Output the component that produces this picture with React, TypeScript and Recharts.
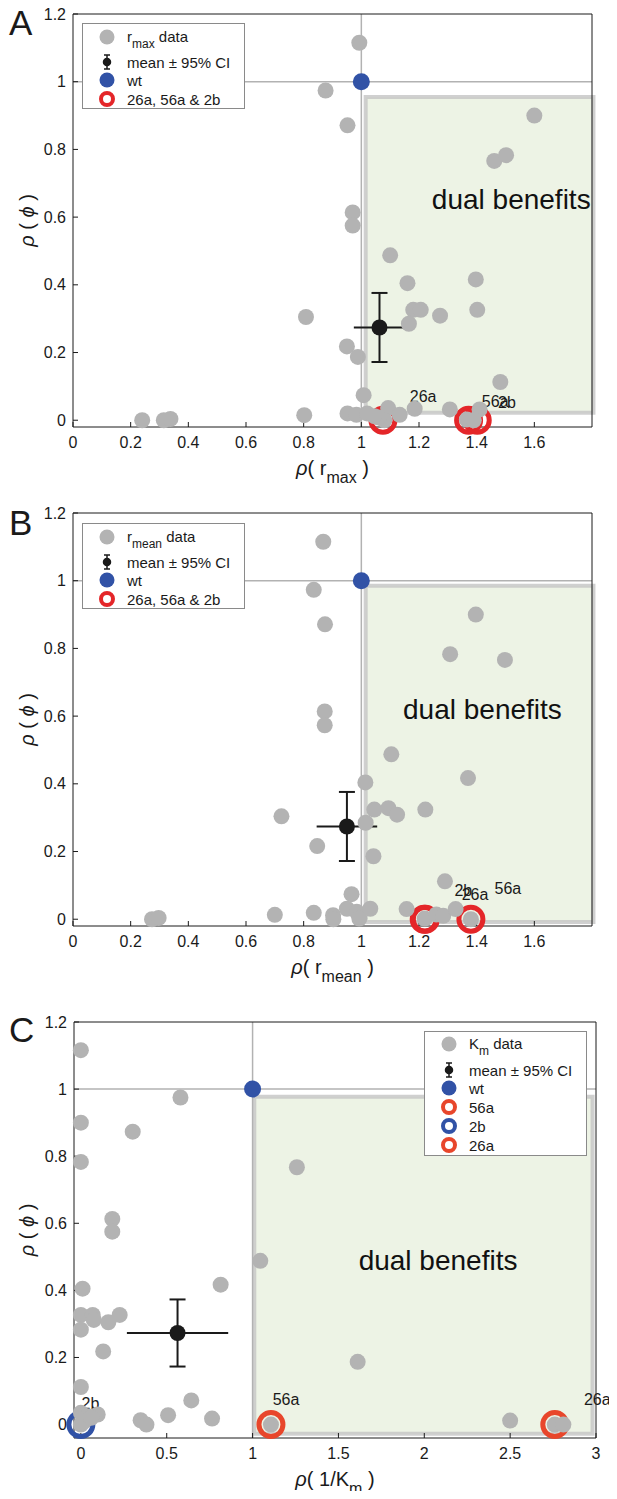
import React from 'react';
import { ScatterChart, Scatter, XAxis, YAxis, ReferenceLine, ReferenceArea, ErrorBar } from 'recharts';

const FONT = '"Liberation Sans", Arial, Helvetica, sans-serif';
const GRAY = '#b3b3b3';
const BLUE = '#3152a6';
const RED = '#e42629';
const RED_C = '#e8462b';
const INK = '#1a1a1a';

// panel A: rho(r_max) vs rho(phi)
const rmaxX = [0.993, 0.876, 0.952, 0.97, 0.97, 1.1, 1.16, 1.397, 1.402, 1.18, 1.206, 1.273, 1.165, 0.808, 0.95, 0.988, 1.6, 1.461, 1.502, 1.482, 1.008, 0.24, 0.315, 0.338, 0.802, 0.952, 0.983, 1.02, 1.093, 1.133, 1.185, 1.307, 1.41, 1.08, 1.366, 1.39, 1.06, 1.045];
const rmaxPhi = [1.115, 0.974, 0.871, 0.614, 0.575, 0.487, 0.405, 0.416, 0.326, 0.326, 0.326, 0.309, 0.285, 0.305, 0.218, 0.187, 0.9, 0.766, 0.783, 0.113, 0.074, 0.0, 0.0, 0.004, 0.015, 0.02, 0.016, 0.02, 0.036, 0.016, 0.034, 0.032, 0.032, 0.0, 0.002, 0.0, 0.008, 0.012];

// panel B: rho(r_mean) vs rho(phi)
const rmeanX = [0.868, 0.835, 0.874, 0.873, 0.873, 1.397, 1.308, 1.498, 1.104, 1.37, 1.014, 1.045, 1.094, 1.124, 1.222, 1.015, 0.723, 0.847, 1.042, 1.29, 0.966, 0.274, 0.297, 0.7, 0.835, 0.902, 0.903, 0.95, 0.984, 0.993, 1.031, 1.157, 1.22, 1.26, 1.284, 1.327, 1.38];
const rmeanPhi = [1.115, 0.973, 0.871, 0.614, 0.573, 0.9, 0.783, 0.766, 0.487, 0.417, 0.404, 0.324, 0.328, 0.309, 0.324, 0.285, 0.304, 0.216, 0.186, 0.112, 0.074, 0.0, 0.004, 0.013, 0.019, 0.012, 0.0, 0.031, 0.022, 0.002, 0.031, 0.03, 0.002, 0.014, 0.01, 0.03, 0.0];

// panel C: rho(1/Km) vs rho(phi)
const kmX = [0.0, 0.58, 0.0, 0.302, 0.0, 0.183, 0.183, 1.258, 1.045, 0.814, 0.01, 0.0, 0.069, 0.075, 0.226, 0.16, 0.0, 0.13, 1.612, 0.0, 0.643, 0.508, 0.764, 0.348, 0.382, 0.098, 0.0, 0.04, 0.0, 2.5, 2.76, 2.81, 1.107, 0.02, 0.06];
const kmPhi = [1.116, 0.975, 0.9, 0.873, 0.783, 0.613, 0.575, 0.767, 0.488, 0.417, 0.405, 0.327, 0.327, 0.312, 0.327, 0.305, 0.283, 0.218, 0.187, 0.112, 0.072, 0.028, 0.018, 0.013, 0.0, 0.03, 0.035, 0.025, 0.0, 0.012, 0.0, 0.0, 0.0, 0.01, 0.02];

// mean +- 95% CI, one entry per panel (A, B, C)
const meanX = [1.063, 0.95, 0.563];
const meanPhi = [0.274, 0.274, 0.273];
const meanXErr = [0.089, 0.105, 0.295];
const meanPhiErr = [0.102, 0.102, 0.1];

// highlighted variants
const ringNamesA = ['26a', '56a', '2b'];
const ringXA = [1.075, 1.372, 1.402];
const labelXA = [1.168, 1.418, 1.474];
const labelPhiA = [0.071, 0.054, 0.053];

const ringNamesB = ['2b', '26a', '56a'];
const ringXB = [1.218, 1.222, 1.38];
const labelXB = [1.323, 1.348, 1.462];
const labelPhiB = [0.086, 0.072, 0.091];

const ringNamesC = ['2b', '56a', '26a'];
const ringXC = [0.0, 1.107, 2.76];
const labelXC = [0.004, 1.117, 2.93];
const labelPhiC = [0.063, 0.075, 0.075];

const ticksR = [0, 0.2, 0.4, 0.6, 0.8, 1, 1.2, 1.4, 1.6];
const ticksK = [0, 0.5, 1, 1.5, 2, 2.5, 3];
const ticksPhi = [0, 0.2, 0.4, 0.6, 0.8, 1, 1.2];

const toPoints = (xs: number[], ys: number[]) => xs.map((x, i) => ({ x, y: ys[i] }));

const GrayDot = (p: any) => <circle cx={p.cx} cy={p.cy} r={8} fill={GRAY} />;
const WtDot = (p: any) => <circle cx={p.cx} cy={p.cy} r={8.5} fill={BLUE} />;
const MeanDot = (p: any) => <circle cx={p.cx} cy={p.cy} r={8} fill={INK} />;
const Ring = (p: any) => (
  <circle cx={p.cx} cy={p.cy} r={12} fill="none" stroke={p.payload.color} strokeWidth={5} />
);
const Tag = (p: any) => (
  <text x={p.cx} y={p.cy} dominantBaseline="central" fontSize={16} fontFamily={FONT} fill={INK}>
    {p.payload.t}
  </text>
);
const Benefits = (p: any) => (
  <text x={p.cx} y={p.cy} dominantBaseline="central" textAnchor="middle" fontSize={28} fontFamily={FONT} fill="#111">
    dual benefits
  </text>
);

const XTitle = ({ viewBox, main, sub }: any) => {
  const cx = viewBox.x + viewBox.width / 2;
  const y = viewBox.y + 48;
  return (
    <text x={cx} y={y} textAnchor="middle" fontSize={20} fontFamily={FONT} fill={INK}>
      <tspan fontStyle="italic">ρ</tspan>
      <tspan>( {main}</tspan>
      <tspan dy={8} fontSize={16}>{sub}</tspan>
      <tspan dy={-8}> )</tspan>
    </text>
  );
};

const YTitle = ({ viewBox }: any) => {
  const cx = 27;
  const cy = viewBox.y + viewBox.height / 2;
  return (
    <text x={cx} y={cy} transform={`rotate(-90 ${cx} ${cy})`} textAnchor="middle" dominantBaseline="central" fontSize={20} fontFamily={FONT} fill={INK}>
      <tspan fontStyle="italic">ρ</tspan> ( <tspan fontStyle="italic">ϕ</tspan> )
    </text>
  );
};

type LegendRow = { kind: 'dot' | 'mean' | 'wt' | 'ring'; color?: string; label: React.ReactNode; y: number };

const LegendBox = ({ left, top, width, height, rows }: { left: number; top: number; width: number; height: number; rows: LegendRow[] }) => (
  <svg width={width} height={height} style={{ position: 'absolute', left, top }}>
    <rect x={0.5} y={0.5} width={width - 1} height={height - 1} fill="#fff" stroke="#8a8a8a" />
    {rows.map((r, i) => (
      <g key={i}>
        {r.kind === 'dot' && <circle cx={25} cy={r.y + 1} r={7.5} fill={GRAY} />}
        {r.kind === 'wt' && <circle cx={25} cy={r.y} r={7.5} fill={BLUE} />}
        {r.kind === 'ring' && <circle cx={25} cy={r.y} r={6} fill="none" stroke={r.color} strokeWidth={4} />}
        {r.kind === 'mean' && (
          <g stroke={INK} strokeWidth={1.5}>
            <line x1={25} x2={25} y1={r.y - 7} y2={r.y + 7} />
            <line x1={22} x2={28} y1={r.y - 7} y2={r.y - 7} />
            <line x1={22} x2={28} y1={r.y + 7} y2={r.y + 7} />
            <circle cx={25} cy={r.y} r={3.5} fill={INK} />
          </g>
        )}
        <text x={45} y={r.y} dominantBaseline="central" fontSize={15} fontFamily={FONT} fill={INK}>
          {r.label}
        </text>
      </g>
    ))}
  </svg>
);

const subLabel = (main: string, sub: string) => (
  <>
    <tspan>{main}</tspan>
    <tspan dy={8} fontSize={12}>{sub}</tspan>
    <tspan dy={-8}> data</tspan>
  </>
);

type PanelProps = {
  letter: string;
  top: number;
  height: number;
  margin: { top: number; right: number; bottom: number; left: number };
  yWidth: number;
  letterY: number;
  xDomain: [number, number];
  xTicks: number[];
  yDomain: [number, number];
  points: { x: number; y: number }[];
  meanIdx: number;
  rings: { x: number; y: number; color: string }[];
  tags: { x: number; y: number; t: string }[];
  box: [number, number, number, number];
  benefits: { x: number; y: number };
  titleMain: string;
  titleSub: string;
  legend: React.ReactNode;
};

const axisTick = { fill: INK, fontSize: 16, fontFamily: FONT };

const Panel = (p: PanelProps) => {
  const mean = [{ x: meanX[p.meanIdx], y: meanPhi[p.meanIdx], ex: meanXErr[p.meanIdx], ey: meanPhiErr[p.meanIdx] }];
  return (
    <div style={{ position: 'absolute', left: 0, top: p.top, width: 617, height: p.height }}>
      <ScatterChart width={617} height={p.height} margin={p.margin}>
        <XAxis
          type="number" dataKey="x" domain={p.xDomain} ticks={p.xTicks} interval={0} height={40}
          tickSize={-5} tickMargin={15} tick={axisTick}
          axisLine={{ stroke: INK }} tickLine={{ stroke: INK }}
          label={<XTitle main={p.titleMain} sub={p.titleSub} />}
        />
        <XAxis
          xAxisId="top" orientation="top" type="number" dataKey="x" domain={p.xDomain} ticks={p.xTicks}
          interval={0} height={1} tickSize={-5} tick={false} allowDataOverflow
          axisLine={{ stroke: INK }} tickLine={{ stroke: INK }}
        />
        <YAxis
          type="number" dataKey="y" domain={p.yDomain} ticks={ticksPhi} interval={0} width={p.yWidth}
          tickSize={-5} tickMargin={12} tick={axisTick}
          axisLine={{ stroke: INK }} tickLine={{ stroke: INK }}
          label={<YTitle />}
        />
        <YAxis
          yAxisId="right" orientation="right" type="number" dataKey="y" domain={p.yDomain} ticks={ticksPhi}
          interval={0} width={1} tickSize={-5} tick={false} allowDataOverflow
          axisLine={{ stroke: INK }} tickLine={{ stroke: INK }}
        />
        <ReferenceLine y={1} stroke="#b2b2b2" strokeWidth={1.5} />
        <ReferenceLine x={1} stroke="#b2b2b2" strokeWidth={1.5} />
        <Scatter data={p.rings} shape={Ring} isAnimationActive={false} />
        <Scatter data={p.tags} shape={Tag} isAnimationActive={false} />
        <Scatter data={p.points} shape={GrayDot} isAnimationActive={false} />
        <Scatter data={mean} shape={MeanDot} isAnimationActive={false}>
          <ErrorBar dataKey="ex" direction="x" width={0} stroke={INK} strokeWidth={2} />
          <ErrorBar dataKey="ey" direction="y" width={8} stroke={INK} strokeWidth={2} />
        </Scatter>
        <Scatter data={[{ x: 1, y: 1 }]} shape={WtDot} isAnimationActive={false} />
        <ReferenceArea
          x1={p.box[0]} x2={p.box[1]} y1={p.box[2]} y2={p.box[3]} ifOverflow="visible"
          fill="rgb(95,150,20)" fillOpacity={0.11} stroke="#c4c4c4" strokeOpacity={0.8} strokeWidth={4}
        />
        <Scatter data={[p.benefits]} shape={Benefits} isAnimationActive={false} />
      </ScatterChart>
      <svg width={50} height={50} style={{ position: 'absolute', left: 0, top: 0 }}>
        <text x={9} y={p.letterY} fontSize={35} fontFamily={FONT} fill={INK}>{p.letter}</text>
      </svg>
      {p.legend}
    </div>
  );
};

const ringsFrom = (xs: number[], colors: string[]) => xs.map((x, i) => ({ x, y: 0, color: colors[i] }));
const tagsFrom = (xs: number[], ys: number[], names: string[]) => xs.map((x, i) => ({ x, y: ys[i], t: names[i] }));

const abRows = (name: string, sub: string): LegendRow[] => [
  { kind: 'dot', label: subLabel(name, sub), y: 13 },
  { kind: 'mean', label: 'mean ± 95% CI', y: 39 },
  { kind: 'wt', label: 'wt', y: 57 },
  { kind: 'ring', color: RED, label: '26a, 56a & 2b', y: 76 },
];

const cRows: LegendRow[] = [
  { kind: 'dot', label: subLabel('K', 'm'), y: 12 },
  { kind: 'mean', label: 'mean ± 95% CI', y: 39 },
  { kind: 'wt', label: 'wt', y: 57 },
  { kind: 'ring', color: RED_C, label: '56a', y: 76 },
  { kind: 'ring', color: BLUE, label: '2b', y: 95 },
  { kind: 'ring', color: RED_C, label: '26a', y: 114 },
];

export default function App() {
  return (
    <div style={{ position: 'relative', width: 617, height: 1499, margin: -8, background: '#fff' }}>
      <Panel
        letter="A" top={0} height={490} margin={{ top: 13, right: 24, bottom: 23, left: 0 }} yWidth={73} letterY={35}
        xDomain={[0, 1.8]} xTicks={ticksR} yDomain={[-0.02, 1.2]}
        points={toPoints(rmaxX, rmaxPhi)} meanIdx={0}
        rings={ringsFrom(ringXA, [RED, RED, RED])}
        tags={tagsFrom(labelXA, labelPhiA, ringNamesA)}
        box={[1.015, 1.805, 0.022, 0.955]} benefits={{ x: 1.52, y: 0.652 }}
        titleMain="r" titleSub="max"
        legend={<LegendBox left={82} top={23} width={163} height={86} rows={abRows('r', 'max')} />}
      />
      <Panel
        letter="B" top={499} height={490} margin={{ top: 13, right: 24, bottom: 23, left: 0 }} yWidth={73} letterY={36}
        xDomain={[0, 1.8]} xTicks={ticksR} yDomain={[-0.02, 1.2]}
        points={toPoints(rmeanX, rmeanPhi)} meanIdx={1}
        rings={ringsFrom(ringXB, [RED, RED, RED])}
        tags={tagsFrom(labelXB, labelPhiB, ringNamesB)}
        box={[1.015, 1.805, -0.008, 0.985]} benefits={{ x: 1.42, y: 0.62 }}
        titleMain="r" titleSub="mean"
        legend={<LegendBox left={82} top={24} width={163} height={86} rows={abRows('r', 'mean')} />}
      />
      <Panel
        letter="C" top={1000} height={499} margin={{ top: 21, right: 20, bottom: 21, left: 0 }} yWidth={74} letterY={42}
        xDomain={[-0.04, 3]} xTicks={ticksK} yDomain={[-0.04, 1.2]}
        points={toPoints(kmX, kmPhi)} meanIdx={2}
        rings={ringsFrom(ringXC, [BLUE, RED_C, RED_C])}
        tags={tagsFrom(labelXC, labelPhiC, ringNamesC)}
        box={[1.01, 2.98, -0.027, 0.977]} benefits={{ x: 2.08, y: 0.49 }}
        titleMain="1/K" titleSub="m"
        legend={<LegendBox left={424} top={31} width={163} height={125} rows={cRows} />}
      />
    </div>
  );
}
